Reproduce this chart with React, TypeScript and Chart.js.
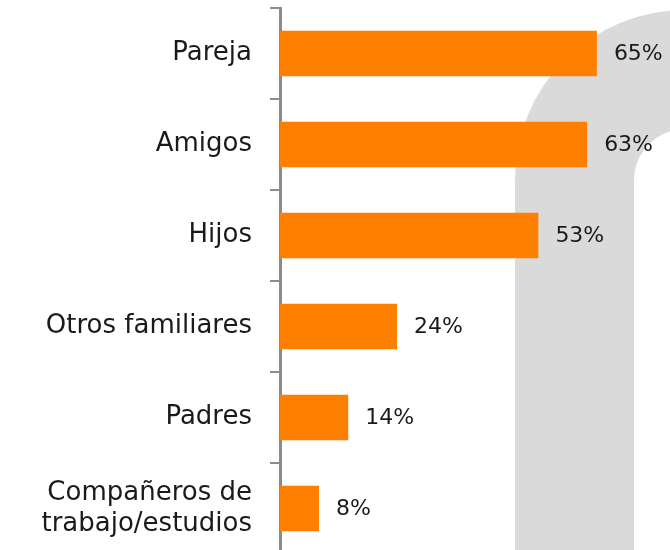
import React, { useEffect, useRef } from "react";
import { Chart, registerables } from "chart.js";

Chart.register(...registerables);

const categories: (string | string[])[] = [
  "Pareja",
  "Amigos",
  "Hijos",
  "Otros familiares",
  "Padres",
  ["Compañeros de", "trabajo/estudios"],
];
const values: number[] = [65, 63, 53, 24, 14, 8];

const FONT = "'DejaVu Sans', sans-serif";

const backgroundPlugin = {
  id: "bgWatermark",
  beforeDraw(chart: any) {
    const ctx = chart.ctx as CanvasRenderingContext2D;
    const w = chart.width;
    const h = chart.height;
    ctx.save();
    ctx.fillStyle = "#ffffff";
    ctx.fillRect(0, 0, w, h);
    // decorative arch watermark
    const cx = 685;
    const cy = 180;
    const rOuter = 170;
    const rInner = 51;
    ctx.fillStyle = "#dadada";
    ctx.beginPath();
    ctx.moveTo(cx - rOuter, h);
    ctx.lineTo(cx - rOuter, cy);
    ctx.arc(cx, cy, rOuter, Math.PI, 1.5 * Math.PI, false);
    ctx.lineTo(w, cy - rOuter);
    ctx.lineTo(w, cy - Math.sqrt(rInner * rInner - (w - cx) * (w - cx)));
    ctx.arc(cx, cy, rInner, Math.PI + Math.acos((cx - w) / rInner), Math.PI, true);
    ctx.lineTo(cx - rInner, h);
    ctx.closePath();
    ctx.fill();
    ctx.restore();
  },
};

const valueLabelPlugin = {
  id: "valueLabels",
  afterDatasetsDraw(chart: any) {
    const ctx = chart.ctx as CanvasRenderingContext2D;
    const meta = chart.getDatasetMeta(0);
    ctx.save();
    ctx.fillStyle = "#1a1a1a";
    ctx.font = `22px ${FONT}`;
    ctx.textAlign = "left";
    ctx.textBaseline = "middle";
    meta.data.forEach((bar: any, i: number) => {
      ctx.fillText(`${values[i]}%`, bar.x + 17, bar.y + 1);
    });
    ctx.restore();
  },
};

export default function App() {
  const ref = useRef<HTMLCanvasElement | null>(null);

  useEffect(() => {
    document.body.style.margin = "0";
    document.body.style.overflow = "hidden";
    if (!ref.current) return;
    const chart = new Chart(ref.current, {
      type: "bar",
      data: {
        labels: categories,
        datasets: [
          {
            data: values,
            backgroundColor: "#ff7f00",
            borderWidth: 0,
            categoryPercentage: 1,
            barPercentage: 0.5,
          },
        ],
      },
      options: {
        indexAxis: "y",
        animation: false,
        responsive: false,
        devicePixelRatio: 1,
        layout: { padding: { top: 8, bottom: 0, left: 0, right: 0 } },
        plugins: {
          legend: { display: false },
          tooltip: { enabled: false },
        },
        scales: {
          x: {
            display: false,
            min: 0,
            max: 80,
          },
          y: {
            type: "category",
            afterFit: (scale: any) => {
              scale.width = 280;
              scale.paddingTop = 0;
              scale.paddingBottom = 0;
            },
            grid: {
              drawOnChartArea: false,
              drawTicks: true,
              tickLength: 10,
              color: "#8c8c8c",
              lineWidth: 2,
              offset: true,
            },
            border: { display: true, color: "#8c8c8c", width: 3 },
            ticks: {
              color: "#1a1a1a",
              padding: 18,
              font: { family: FONT, size: 26, lineHeight: 1.2 },
            },
          },
        },
      },
      plugins: [backgroundPlugin, valueLabelPlugin],
    });
    return () => chart.destroy();
  }, []);

  return (
    <div style={{ width: 670, height: 550, overflow: "hidden" }}>
      <canvas ref={ref} width={670} height={554} />
    </div>
  );
}
